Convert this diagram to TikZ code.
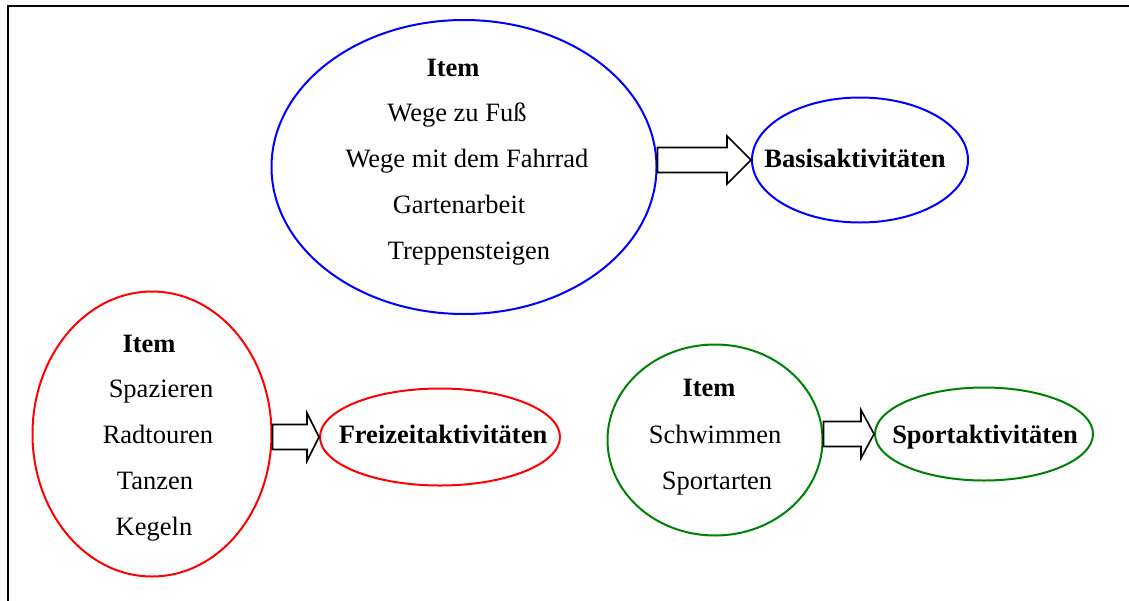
\documentclass[tikz,border=0pt]{standalone}
\usepackage{fontspec}
\setmainfont{Liberation Serif}
\usetikzlibrary{shapes.geometric,calc}
\tikzset{
  px/.style={x=0.5pt,y=-0.5pt},
  oval/.style={ellipse,draw,line width=1pt,inner sep=0pt},
  txt/.style={anchor=base,inner sep=0pt,font=\fontsize{13.25}{16}\selectfont},
  btxt/.style={txt,font=\fontsize{13.25}{16}\selectfont\bfseries},
  blockarr/.style={draw=black,line width=0.8pt,fill=white,line join=miter},
  frameline/.style={draw=black,line width=1.2pt}
}
\newcommand{\blockarrowdraw}[3]{%
  \draw[blockarr] let \p1=(#1.east), \p2=(#2.west) in
    (\x1,\y2+6.25pt) -- (\x2-#3,\y2+6.25pt) -- (\x2-#3,\y2+12pt) -- (\x2,\y2)
    -- (\x2-#3,\y2-12pt) -- (\x2-#3,\y2-6.25pt) -- (\x1,\y2-6.25pt) -- cycle;}
\begin{document}
\begin{tikzpicture}[px]
\useasboundingbox (0,0) rectangle (1129,600);
\draw[frameline] (8,601) -- (8,6) -- (1130,6);

% blue group
\node[oval,draw=blue,minimum width=192.5pt,minimum height=147pt] (bbig) at (464,167) {};
\node[oval,draw=blue,minimum width=108pt,minimum height=62.5pt] (bsmall) at (860,160) {};
\node[btxt] (bitem) at (453,76) {Item};
\node[txt] (b1) at (457,121) {Wege zu Fuß};
\node[txt] (b2) at (467,167) {Wege mit dem Fahrrad};
\node[txt] (b3) at (459,213) {Gartenarbeit};
\node[txt] (b4) at (469,259) {Treppensteigen};
\node[btxt] (blabel) at (855,167) {Basisaktivitäten};

% red group
\node[oval,draw=red,minimum width=119.5pt,minimum height=142.5pt] (rbig) at (152,434) {};
\node[oval,draw=red,minimum width=120pt,minimum height=48.5pt] (rsmall) at (440,437) {};
\node[btxt] (ritem) at (149,352) {Item};
\node[txt] (r1) at (161,397) {Spazieren};
\node[txt] (r2) at (158,443) {Radtouren};
\node[txt] (r3) at (155,489) {Tanzen};
\node[txt] (r4) at (154,535) {Kegeln};
\node[btxt] (rlabel) at (443,443) {Freizeitaktivitäten};

% green group
\node[oval,draw={rgb,255:red,0;green,128;blue,0},minimum width=107.5pt,minimum height=95.5pt] (gbig) at (715,440) {};
\node[oval,draw={rgb,255:red,0;green,128;blue,0},minimum width=109pt,minimum height=46.5pt] (gsmall) at (984,434) {};
\node[btxt] (gitem) at (709,396) {Item};
\node[txt] (g1) at (715,443) {Schwimmen};
\node[txt] (g2) at (717,489) {Sportarten};
\node[btxt] (glabel) at (985,443) {Sportaktivitäten};

% block arrows
\blockarrowdraw{bbig}{bsmall}{12pt}
\blockarrowdraw{rbig}{rsmall}{6pt}
\blockarrowdraw{gbig}{gsmall}{6.5pt}
\end{tikzpicture}
\end{document}
